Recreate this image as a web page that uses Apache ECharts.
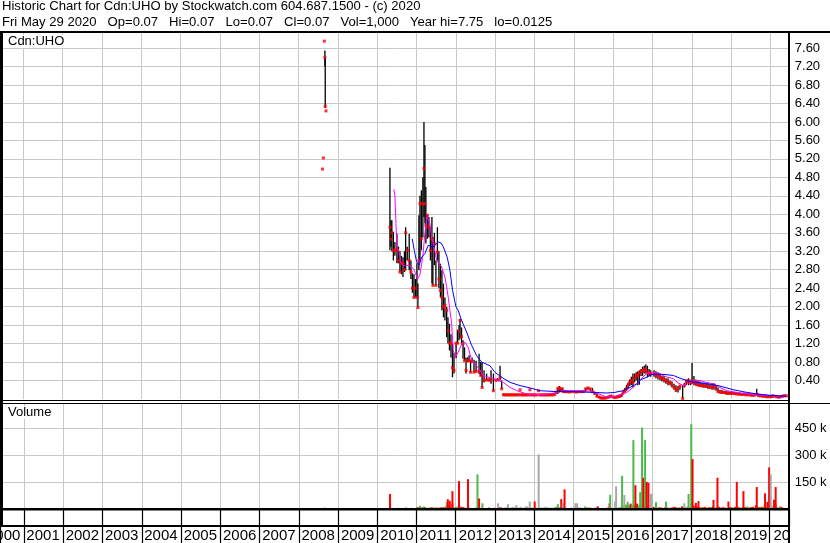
<!DOCTYPE html>
<html><head><meta charset="utf-8">
<script src="https://cdn.jsdelivr.net/npm/echarts@6/dist/echarts.min.js"></script>
<style>html,body{margin:0;padding:0;background:#fff}#c{width:830px;height:543px}</style>
</head><body><div id="c"></div>
<script>
// ---------- DATA ----------
const titleLine1 = 'Historic Chart for Cdn:UHO by Stockwatch.com 604.687.1500 - (c) 2020';
const titleLine2 = 'Fri May 29 2020   Op=0.07   Hi=0.07   Lo=0.07   Cl=0.07   Vol=1,000   Year hi=7.75   lo=0.0125';
const symbolLabel = 'Cdn:UHO';
const volumeLabel = 'Volume';

const priceDates = [
 '2008-08-11','2008-08-18','2008-08-28','2008-09-02','2008-09-05','2008-09-12',
 '2010-04-29','2010-05-08','2010-05-17','2010-05-31','2010-06-14','2010-07-03','2010-07-17','2010-07-31','2010-08-14','2010-08-28','2010-09-11','2010-09-22','2010-10-07','2010-10-25','2010-11-10','2010-11-24','2010-12-08','2010-12-22',
 '2011-01-05','2011-01-14','2011-01-23','2011-02-02','2011-02-15','2011-03-01','2011-03-11','2011-03-20','2011-03-29','2011-04-12','2011-04-26','2011-05-10','2011-05-24','2011-06-02','2011-06-16','2011-06-30','2011-07-14','2011-07-28','2011-08-11','2011-08-25','2011-09-08','2011-09-22','2011-10-08','2011-10-20','2011-11-03','2011-11-17','2011-12-01','2011-12-15',
 '2012-01-03','2012-01-17','2012-01-31','2012-02-09','2012-02-23','2012-03-08','2012-03-22','2012-04-05','2012-04-19','2012-05-03','2012-05-17','2012-05-31','2012-06-18','2012-07-07','2012-08-04','2012-08-19','2012-09-01','2012-09-19','2012-10-13','2012-11-05','2012-11-23','2012-12-15',
 '2013-01-05','2013-01-23','2013-02-15','2013-03-02','2013-03-19','2013-04-02','2013-04-16','2013-04-30','2013-05-14','2013-05-28','2013-06-11','2013-06-25','2013-07-09','2013-07-23','2013-08-06','2013-08-20','2013-08-27','2013-09-10','2013-09-24','2013-10-08','2013-10-22','2013-11-05','2013-11-19','2013-11-26','2013-12-10','2013-12-24',
 '2014-01-07','2014-01-21','2014-02-07','2014-02-18','2014-03-04','2014-03-18','2014-04-01','2014-04-15','2014-04-29','2014-05-13','2014-05-27','2014-06-10','2014-06-24','2014-07-08','2014-07-22','2014-08-05','2014-08-19','2014-09-02','2014-09-16','2014-09-30','2014-10-14','2014-10-28','2014-11-18','2014-12-09',
 '2015-01-06','2015-01-27','2015-02-17','2015-03-10','2015-03-31','2015-04-21','2015-05-12','2015-06-02','2015-06-23','2015-07-14','2015-08-04','2015-08-25','2015-09-08','2015-09-22','2015-10-06','2015-10-20','2015-11-03','2015-11-17','2015-12-01','2015-12-15',
 '2016-01-05','2016-01-20','2016-02-04','2016-02-19','2016-03-05','2016-03-20','2016-04-04','2016-04-19','2016-05-04','2016-05-19','2016-06-03','2016-06-18','2016-07-03','2016-07-18','2016-08-02','2016-08-17','2016-09-01','2016-09-16','2016-10-01','2016-10-16','2016-10-31','2016-11-15','2016-11-30','2016-12-15',
 '2017-01-15','2017-02-02','2017-02-21','2017-03-12','2017-03-30','2017-04-18','2017-05-06','2017-05-25','2017-06-13','2017-07-01','2017-07-20','2017-08-07','2017-08-26','2017-09-13','2017-10-08','2017-10-25','2017-11-12','2017-12-01','2017-12-20',
 '2018-01-03','2018-01-21','2018-02-09','2018-02-28','2018-03-18','2018-04-06','2018-04-24','2018-05-13','2018-05-31','2018-06-19','2018-07-08','2018-07-26','2018-08-14','2018-09-01','2018-09-20','2018-10-09','2018-10-27','2018-11-15','2018-12-04','2018-12-22',
 '2019-01-09','2019-01-28','2019-02-15','2019-03-06','2019-03-25','2019-04-12','2019-05-01','2019-05-19','2019-06-07','2019-06-26','2019-07-14','2019-08-02','2019-08-27','2019-09-13','2019-10-01','2019-10-20','2019-11-07','2019-11-26','2019-12-15',
 '2020-01-02','2020-01-20','2020-02-08','2020-02-27','2020-03-16','2020-04-04','2020-04-22','2020-05-11','2020-05-29'
];
const priceHigh = [
 4.98,5.22,7.75,7.55,7.40,6.24,
 5.01,3.87,3.87,3.62,3.40,3.58,3.30,3.20,3.10,3.07,3.20,3.72,3.30,3.58,3.00,2.72,2.70,2.60,
 2.94,2.50,3.98,4.40,4.52,4.80,6.00,5.50,4.59,3.98,3.94,3.72,3.94,3.51,3.60,3.00,3.72,3.20,2.93,2.79,2.50,2.20,1.99,1.77,1.63,1.40,1.20,1.00,
 1.21,1.50,1.60,1.74,1.55,1.27,1.12,0.90,0.90,0.95,0.85,0.90,0.85,0.83,0.98,0.80,0.80,0.62,0.55,0.45,0.62,0.55,
 0.42,0.45,0.72,0.40,0.12,0.10,0.10,0.10,0.11,0.10,0.10,0.10,0.11,0.10,0.10,0.20,0.10,0.10,0.11,0.10,0.10,0.10,0.20,0.10,0.10,0.10,
 0.10,0.10,0.18,0.10,0.10,0.11,0.10,0.10,0.10,0.11,0.10,0.11,0.10,0.12,0.16,0.25,0.28,0.24,0.24,0.20,0.18,0.18,0.17,0.18,
 0.18,0.16,0.17,0.18,0.18,0.24,0.25,0.24,0.24,0.16,0.12,0.06,0.04,0.04,0.04,0.04,0.05,0.06,0.08,0.09,
 0.06,0.05,0.06,0.08,0.09,0.12,0.18,0.24,0.30,0.36,0.42,0.48,0.55,0.55,0.58,0.60,0.62,0.65,0.70,0.72,0.75,0.72,0.65,0.62,
 0.62,0.60,0.58,0.55,0.50,0.50,0.45,0.45,0.40,0.38,0.33,0.30,0.28,0.30,0.29,0.35,0.42,0.45,0.40,
 0.78,0.50,0.42,0.40,0.38,0.36,0.35,0.33,0.34,0.32,0.33,0.34,0.30,0.25,0.20,0.20,0.18,0.18,0.17,0.16,
 0.16,0.15,0.15,0.14,0.14,0.13,0.14,0.13,0.12,0.12,0.12,0.13,0.22,0.11,0.10,0.10,0.09,0.09,0.08,
 0.08,0.10,0.09,0.09,0.07,0.08,0.09,0.09,0.07
];
const priceLow = [
 4.98,5.22,7.75,7.20,6.30,6.24,
 3.22,3.30,3.20,3.00,3.10,2.94,2.94,2.75,2.70,2.64,2.75,2.79,3.00,2.79,2.60,2.30,2.20,2.20,
 2.20,1.98,2.79,3.00,3.22,3.50,3.94,3.80,3.37,3.47,3.50,3.00,2.50,2.46,2.90,2.46,3.00,2.40,2.20,1.92,1.77,1.70,1.34,1.20,1.05,0.90,0.47,0.55,
 0.88,1.20,1.27,1.31,1.20,0.87,0.83,0.55,0.80,0.80,0.58,0.80,0.58,0.58,0.54,0.50,0.25,0.36,0.40,0.38,0.33,0.18,
 0.40,0.40,0.40,0.22,0.08,0.08,0.08,0.08,0.08,0.08,0.08,0.08,0.08,0.08,0.08,0.20,0.08,0.08,0.08,0.08,0.08,0.08,0.20,0.08,0.08,0.08,
 0.08,0.08,0.18,0.08,0.08,0.08,0.08,0.08,0.08,0.08,0.08,0.08,0.08,0.09,0.12,0.11,0.14,0.16,0.14,0.14,0.14,0.14,0.14,0.14,
 0.14,0.14,0.14,0.14,0.14,0.16,0.20,0.18,0.14,0.10,0.04,0.02,0.01,0.01,0.01,0.01,0.02,0.02,0.03,0.04,
 0.02,0.02,0.02,0.03,0.04,0.05,0.10,0.14,0.18,0.22,0.28,0.30,0.25,0.36,0.40,0.30,0.31,0.50,0.50,0.55,0.55,0.47,0.50,0.48,
 0.48,0.45,0.42,0.40,0.38,0.36,0.33,0.30,0.30,0.25,0.20,0.15,0.14,0.20,0.01,0.25,0.30,0.30,0.30,
 0.33,0.30,0.28,0.28,0.26,0.25,0.25,0.24,0.22,0.22,0.20,0.20,0.18,0.14,0.12,0.12,0.11,0.10,0.10,0.10,
 0.10,0.09,0.09,0.08,0.08,0.08,0.08,0.07,0.07,0.07,0.06,0.06,0.07,0.06,0.05,0.04,0.04,0.03,0.03,
 0.03,0.03,0.04,0.03,0.02,0.02,0.04,0.05,0.07
];
const priceClose = [
 4.98,5.22,7.75,7.40,6.34,6.24,
 3.72,3.46,3.60,3.22,3.22,3.22,3.00,2.75,2.94,2.94,2.80,3.60,3.22,3.00,2.75,2.40,2.20,2.40,
 2.20,1.98,3.00,4.23,3.47,4.23,4.99,4.23,3.76,3.98,3.72,3.22,3.47,2.46,3.36,2.46,3.18,2.60,2.35,2.20,1.99,2.03,1.92,1.48,1.21,1.21,0.68,0.62,
 1.21,1.21,1.47,1.70,1.35,1.20,0.83,0.62,0.83,0.83,0.58,0.81,0.58,0.60,0.60,0.51,0.25,0.41,0.41,0.41,0.41,0.18,
 0.41,0.41,0.47,0.22,0.09,0.09,0.09,0.09,0.09,0.09,0.09,0.09,0.09,0.09,0.09,0.20,0.09,0.09,0.09,0.09,0.09,0.09,0.20,0.09,0.09,0.09,
 0.09,0.09,0.18,0.09,0.09,0.09,0.09,0.09,0.09,0.09,0.09,0.09,0.09,0.10,0.15,0.22,0.24,0.22,0.22,0.16,0.16,0.16,0.15,0.16,
 0.16,0.15,0.16,0.16,0.16,0.22,0.24,0.22,0.16,0.12,0.06,0.04,0.02,0.02,0.02,0.02,0.03,0.04,0.05,0.06,
 0.04,0.03,0.04,0.05,0.06,0.08,0.14,0.18,0.22,0.30,0.36,0.40,0.36,0.45,0.52,0.50,0.55,0.60,0.62,0.60,0.65,0.58,0.55,0.55,
 0.55,0.50,0.52,0.48,0.45,0.42,0.40,0.36,0.35,0.30,0.25,0.20,0.22,0.28,0.01,0.30,0.38,0.40,0.35,
 0.40,0.35,0.33,0.30,0.30,0.30,0.28,0.28,0.27,0.25,0.25,0.28,0.24,0.16,0.15,0.14,0.14,0.13,0.12,0.12,
 0.13,0.12,0.11,0.11,0.10,0.10,0.10,0.09,0.09,0.09,0.08,0.08,0.10,0.07,0.07,0.06,0.06,0.05,0.05,
 0.05,0.06,0.06,0.05,0.04,0.05,0.06,0.07,0.07
];
// daily volume (thousands) at the price dates, with up/down/unchanged colour code
const dailyVolume = [
 6,4,5,7,5,4,
 9,6,5,4,6,5,7,4,6,5,4,9,6,5,4,6,5,4,
 8,10,12,18,10,8,14,9,8,6,7,8,10,6,8,7,9,6,8,10,12,9,20,15,25,12,30,10,
 12,15,10,8,12,10,8,6,10,8,6,5,6,8,10,6,8,5,6,8,5,6,
 8,6,10,12,6,8,10,14,8,6,10,12,8,10,6,8,12,8,6,10,16,8,6,12,8,6,
 10,8,6,8,10,6,8,12,10,8,6,8,6,10,12,8,6,10,8,6,8,6,5,8,
 8,6,10,8,6,14,10,8,6,5,8,6,4,5,4,6,5,8,6,8,
 6,5,8,6,10,12,20,15,25,18,22,30,20,25,18,30,20,28,22,18,25,20,15,12,
 12,10,8,10,8,6,10,8,6,8,10,12,8,10,15,12,10,14,8,
 30,20,15,12,10,8,10,12,8,10,12,15,8,10,12,8,10,8,6,10,
 10,8,12,15,10,8,12,10,15,8,10,12,20,15,10,12,15,10,8,
 15,20,12,25,10,15,12,8,1
];
const dailyVolumeColor = (
 'rrrrrr' +
 'rgrsgrgsrgrgsrgrgs' +
 'rrgggrgrgrrgrrgrgrrrgrrgrrrg' +
 'gsgrrrrgsrgrrgrrgssrgr' +
 'sgrsrssssssssssgsssssgssss' +
 'ssgsssssssssssgrgrssrsss' +
 'ssssgggrrrrrrssssrgg' +
 'ssgggggggrgrgggrgggrgrrr' +
 'rrgrrrrrrrrrggrgggr' +
 'grrrrrrrgrgrgrrrrrrr' +
 'rgrgrgrrgrrrrgrrgrr' +
 'rsrrggrss').split('');
// larger volume days (thousands)
const volDates = ['2010-04-30','2011-10-13','2011-10-20','2011-11-07','2011-12-02','2012-02-01','2012-04-25','2012-07-22','2012-08-06','2012-09-06',
 '2013-01-30','2013-05-03','2013-07-20','2013-11-21','2014-01-06','2014-02-12','2014-08-10','2014-09-10','2014-09-25','2014-10-11',
 '2015-01-20','2015-02-05','2015-08-17','2015-12-04','2015-12-10','2016-01-25','2016-02-03','2016-03-30','2016-04-20','2016-05-21',
 '2016-07-13','2016-08-01','2016-09-14','2016-10-02','2016-10-14','2016-10-30','2016-11-14','2016-11-30','2016-12-16','2016-12-30',
 '2017-02-09','2017-05-13','2017-10-30','2017-12-09','2018-01-03','2018-01-15','2018-02-15','2018-03-11','2018-07-29','2018-09-04',
 '2018-12-15','2019-03-03','2019-05-04','2019-09-05','2019-11-21','2019-12-13','2019-12-29','2020-01-13','2020-02-13','2020-02-28'];
const volValues = [84,40,55,46,100,156,167,194,59,32,
 32,27,22,42,42,306,27,55,34,110,
 32,32,15,32,80,42,127,186,78,40,
 386,133,94,456,175,386,152,146,84,86,
 38,42,32,84,475,280,34,44,51,175,
 42,152,100,123,88,40,233,194,52,123];
const volColors = ('rgrrrrrgrg' + 'ssssrsgrsr' + 'ssrrgssgsg' + 'grggrgrrss' + 'ggsggrrrrr' + 'rrrrrrrsrr').split('');

// moving averages
const maFastDates = ['2010-06-05','2010-06-14','2010-06-24','2010-07-03','2010-07-22','2010-08-09','2010-09-06','2010-11-01','2010-12-08','2011-01-11','2011-02-02','2011-03-01','2011-03-20','2011-04-08','2011-04-21','2011-05-05','2011-05-21','2011-06-12','2011-07-07','2011-08-22','2011-09-22','2011-10-23','2011-11-07','2011-11-23','2011-12-08','2011-12-24','2012-01-23','2012-02-27','2012-03-25','2012-04-25','2012-05-27','2012-07-12','2012-08-12','2012-09-11','2012-12-13','2013-03-17','2013-05-19','2013-07-20','2013-10-21','2014-02-21','2014-05-25','2014-07-26','2014-10-11','2015-02-28','2015-05-31','2015-09-01','2015-11-02','2016-01-19','2016-05-06','2016-07-04','2016-09-07','2016-10-23','2016-12-09','2017-01-24','2017-03-12','2017-05-07','2017-07-14','2017-08-26','2017-10-15','2017-12-16','2018-01-31','2018-03-18','2018-05-13','2018-07-20','2018-09-20','2018-11-21','2019-03-25','2019-08-27','2019-12-28','2020-05-29'];
const maFast = [4.54,4.40,3.80,3.30,3.20,2.95,2.88,2.90,2.80,2.60,2.70,3.10,3.60,3.95,3.98,3.80,3.51,3.30,3.00,2.86,2.64,2.20,1.92,1.63,1.05,0.90,1.01,1.20,1.23,1.12,0.83,0.72,0.62,0.51,0.44,0.36,0.25,0.18,0.11,0.095,0.11,0.145,0.18,0.17,0.17,0.10,0.04,0.06,0.14,0.25,0.40,0.52,0.58,0.57,0.54,0.48,0.44,0.35,0.29,0.36,0.40,0.40,0.36,0.33,0.25,0.18,0.13,0.09,0.07,0.05];
const maSlowDates = ['2010-11-22','2010-12-13','2011-01-02','2011-01-26','2011-02-17','2011-03-20','2011-04-20','2011-06-02','2011-07-22','2011-08-16','2011-09-06','2011-10-13','2011-11-07','2011-12-02','2012-01-02','2012-01-23','2012-02-24','2012-04-10','2012-05-27','2012-07-12','2012-08-28','2012-11-13','2012-12-29','2013-03-02','2013-05-19','2013-08-20','2013-11-21','2014-02-21','2014-07-26','2014-12-24','2015-05-31','2015-11-02','2016-01-09','2016-04-02','2016-06-06','2016-08-07','2016-09-16','2016-11-08','2016-12-27','2017-02-09','2017-04-27','2017-07-14','2017-09-13','2017-12-16','2018-03-18','2018-07-20','2018-09-20','2019-01-21','2019-05-10','2019-08-27','2019-12-28','2020-05-29'];
const maSlow = [3.47,3.20,2.97,2.90,3.07,3.15,3.33,3.29,3.40,3.38,3.30,3.07,2.79,2.35,2.00,1.92,1.70,1.45,1.16,0.94,0.80,0.72,0.58,0.47,0.36,0.29,0.24,0.18,0.16,0.16,0.145,0.13,0.14,0.18,0.25,0.33,0.42,0.47,0.53,0.54,0.53,0.51,0.45,0.38,0.35,0.31,0.28,0.20,0.15,0.11,0.08,0.06];

// axis settings
const priceMax = 7.97, priceStep = 0.4;
const volMax = 594, volStep = 150;

// ---------- CHART ----------
const FONT = '"Liberation Sans", Arial, sans-serif';
const GRIDC = '#c8c8c8';
const YEAR = 365 * 24 * 3600 * 1000;
const xStart = new Date(2000, 4, 29).getTime();
const xEnd = new Date(2020, 5, 20).getTime();
const xLabelStart = new Date(2000, 0, 1).getTime();
const colorMap = { r: '#ff0000', g: '#4cb84c', s: '#a8a8a8' };

const hiLo = priceDates.map((d, i) => [d, priceHigh[i], priceLow[i]]);
const closes = priceDates.map((d, i) => [d, priceClose[i]]);
const volData = [];
priceDates.forEach((d, i) => {
  if (dailyVolume[i] != null) volData.push({ value: [d, dailyVolume[i]], itemStyle: { color: colorMap[dailyVolumeColor[i]] || '#a8a8a8' } });
});
volDates.forEach((d, i) => volData.push({ value: [d, volValues[i]], itemStyle: { color: colorMap[volColors[i]] } }));

function tAxis(gi, min, extra) {
  return Object.assign({
    type: 'time', gridIndex: gi, min: min, max: xEnd,
    minInterval: YEAR, maxInterval: YEAR,
    axisLine: { show: false }, axisTick: { show: false }, axisLabel: { show: false },
    splitLine: { show: true, lineStyle: { color: GRIDC, width: 1 } }
  }, extra || {});
}

const graphics = [
  { type: 'text', left: 2, top: -0.5, z: 10, silent: true, style: { text: titleLine1, font: '13.1px ' + FONT, fill: '#000' } },
  { type: 'text', left: 2, top: 16, z: 10, silent: true, style: { text: titleLine2, font: '13.1px ' + FONT, fill: '#000' } },
  { type: 'text', left: 7, top: 35, z: 10, silent: true, style: { text: symbolLabel, font: '13px ' + FONT, fill: '#000', backgroundColor: '#fff', padding: [0, 1, 0, 1] } },
  { type: 'text', left: 7, top: 406, z: 10, silent: true, style: { text: volumeLabel, font: '13px ' + FONT, fill: '#000', backgroundColor: '#fff', padding: [0, 1, 0, 1] } },
  { type: 'rect', silent: true, z: 50, shape: { x: 790, y: 526, width: 40, height: 17 }, style: { fill: '#fff' } },
  { type: 'rect', silent: true, z: 60, shape: { x: 0, y: 31, width: 830, height: 2 }, style: { fill: '#000' } },
  { type: 'rect', silent: true, z: 60, shape: { x: 0, y: 31, width: 3, height: 495 }, style: { fill: '#000' } },
  { type: 'rect', silent: true, z: 60, shape: { x: 788, y: 31, width: 2, height: 512 }, style: { fill: '#000' } },
  { type: 'rect', silent: true, z: 60, shape: { x: 0, y: 400, width: 789, height: 1 }, style: { fill: '#000' } },
  { type: 'rect', silent: true, z: 60, shape: { x: 0, y: 403, width: 830, height: 1 }, style: { fill: '#000' } },
  { type: 'rect', silent: true, z: 60, shape: { x: 0, y: 508, width: 790, height: 2.5 }, style: { fill: '#000' } },
  { type: 'rect', silent: true, z: 60, shape: { x: 0, y: 525, width: 790, height: 2 }, style: { fill: '#000' } }
];

const chart = echarts.init(document.getElementById('c'));
chart.setOption({
  animation: false,
  backgroundColor: '#fff',
  textStyle: { fontFamily: FONT },
  grid: [
    { left: 0, right: 41.2, top: 31, height: 368, outerBoundsMode: 'none' },
    { left: 0, right: 41.2, top: 403, height: 106, outerBoundsMode: 'none' },
    { left: -16.04, right: 41.2, top: 509, height: 34, outerBoundsMode: 'none', containLabel: false }
  ],
  xAxis: [
    tAxis(0, xStart),
    tAxis(1, xStart, {
      axisTick: { show: true, inside: false, length: 34, lineStyle: { color: '#000', width: 1.2 } }
    }),
    tAxis(2, xLabelStart, {
      position: 'top',
      splitLine: { show: false },
      axisLabel: { show: true, inside: true, margin: 19, align: 'left', verticalAlign: 'top', padding: [0, 0, 0, 3],
        fontSize: 15, color: '#000', fontFamily: FONT, formatter: '{yyyy}' }
    })
  ],
  yAxis: [
    { type: 'value', gridIndex: 0, position: 'right', min: 0, max: priceMax, interval: priceStep,
      axisLine: { show: false }, axisTick: { show: false },
      axisLabel: { margin: 6, fontSize: 13, color: '#000', fontFamily: FONT,
        formatter: v => (v < 0.01 || v > 7.65) ? '' : v.toFixed(2) },
      splitLine: { show: true, showMinLine: false, showMaxLine: false, lineStyle: { color: GRIDC, width: 1 } } },
    { type: 'value', gridIndex: 1, position: 'right', min: 0, max: volMax, interval: volStep,
      axisLine: { show: false }, axisTick: { show: false },
      axisLabel: { margin: 6, fontSize: 13, color: '#000', fontFamily: FONT,
        formatter: v => (v > 0 && v < 500) ? v + ' k' : '' },
      splitLine: { show: true, showMinLine: false, showMaxLine: false, lineStyle: { color: GRIDC, width: 1 } } },
    { type: 'value', gridIndex: 2, show: false, min: 0, max: 1 }
  ],
  series: [
    { type: 'custom', xAxisIndex: 0, yAxisIndex: 0, data: hiLo, silent: true, z: 2,
      encode: { x: 0, y: [1, 2] },
      renderItem: (params, api) => {
        const a = api.coord([api.value(0), api.value(1)]);
        const b = api.coord([api.value(0), api.value(2)]);
        return { type: 'line', shape: { x1: a[0], y1: a[1], x2: b[0], y2: b[1] }, style: { stroke: '#000', lineWidth: 1.3 } };
      } },
    { type: 'scatter', xAxisIndex: 0, yAxisIndex: 0, data: closes, symbol: 'rect', symbolSize: [3, 3], silent: true, z: 3,
      itemStyle: { color: '#ff0000' } },
    { type: 'line', xAxisIndex: 0, yAxisIndex: 0, data: maFastDates.map((d, i) => [d, maFast[i]]), showSymbol: false, silent: true, z: 4,
      lineStyle: { color: '#ff00ff', width: 1 } },
    { type: 'line', xAxisIndex: 0, yAxisIndex: 0, data: maSlowDates.map((d, i) => [d, maSlow[i]]), showSymbol: false, silent: true, z: 4,
      lineStyle: { color: '#0000ff', width: 1 } },
    { type: 'bar', xAxisIndex: 1, yAxisIndex: 1, data: volData, barWidth: 2, silent: true, z: 2 }
  ],
  graphic: graphics
});
</script>
</body></html>
